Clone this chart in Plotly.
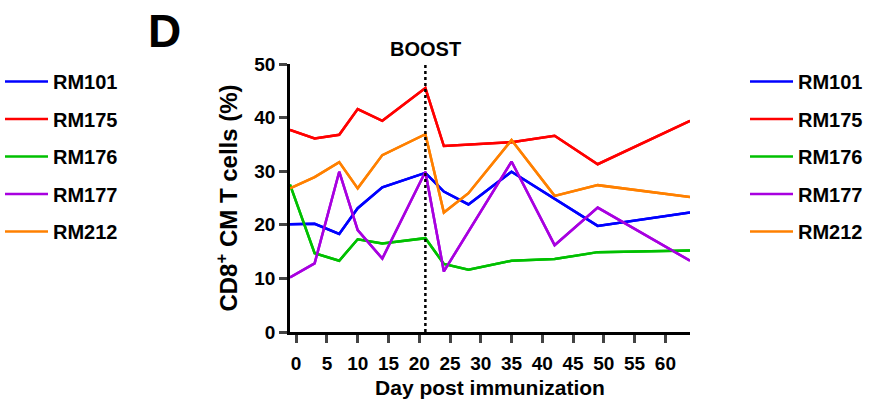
import plotly.graph_objects as go

days = [-1, 3, 7, 10, 14, 21, 24, 28, 35, 42, 49, 64]
series_names = ["RM101", "RM175", "RM176", "RM177", "RM212"]
rm101 = [20.1, 20.2, 18.3, 23.1, 27.0, 29.7, 26.2, 23.8, 29.9, None, 19.8, 22.3]
rm175 = [37.7, 36.1, 36.8, 41.6, 39.4, 45.5, 34.7, None, 35.4, 36.6, 31.3, 39.4]
rm176 = [27.5, 14.7, 13.3, 17.3, 16.5, 17.5, 12.7, 11.6, 13.3, 13.6, 14.9, 15.2]
rm177 = [10.2, 12.8, 29.9, 19.0, 13.7, 29.9, 11.3, None, 31.8, 16.2, 23.2, 13.3]
rm212 = [26.8, 28.9, 31.7, 26.8, 33.0, 36.9, 22.3, 25.9, 35.8, 25.4, 27.4, 25.2]
values = [rm101, rm175, rm176, rm177, rm212]
colors = ["#0000FF", "#FF0000", "#00C000", "#A800E0", "#FF8000"]
boost_day = 21
x_ticks = list(range(0, 61, 5))
y_ticks = [0, 10, 20, 30, 40, 50]

FONT = "Liberation Sans, Arial, sans-serif"
PL, PR, PT, PB = 290, 690, 64, 332
W, H = 886, 402

fig = go.Figure()
for leg in ["legend", "legend2"]:
    for name, vals, col in zip(series_names, values, colors):
        fig.add_trace(go.Scatter(
            x=days, y=vals, mode="lines", name=name,
            line=dict(color=col, width=2.5), connectgaps=True,
            legend=leg, legendgroup=leg + name,
        ))

leg_common = dict(
    font=dict(family=FONT, size=20, color="black", weight="bold"),
    itemwidth=43, tracegroupgap=8.5, traceorder="grouped",
    bgcolor="rgba(0,0,0,0)", xref="paper", yref="paper",
    xanchor="left", yanchor="top",
)
def px_x(p):
    return (p - PL) / (PR - PL)
def px_y(p):
    return (PB - p) / (PB - PT)

fig.update_layout(
    width=W, height=H,
    margin=dict(l=PL, r=W - PR, t=PT, b=H - PB, autoexpand=False),
    plot_bgcolor="white", paper_bgcolor="white",
    font=dict(family=FONT, color="black"),
    showlegend=True,
    legend=dict(x=px_x(0), y=px_y(62), **leg_common),
    legend2=dict(x=px_x(745), y=px_y(62), **leg_common),
    xaxis=dict(
        range=[-1, 64], tickvals=x_ticks, ticks="outside", ticklen=8, tickwidth=2.5,
        showline=True, linecolor="black", linewidth=2.5, showgrid=False, zeroline=False,
        ticklabelstandoff=4,
        tickfont=dict(family=FONT, size=19, color="black", weight="bold"),
        title=dict(text="Day post immunization", standoff=8,
                   font=dict(family=FONT, size=21, color="black", weight="bold")),
    ),
    yaxis=dict(
        range=[0, 50], tickvals=y_ticks, ticks="outside", ticklen=8, tickwidth=2.5,
        showline=True, linecolor="black", linewidth=2.5, showgrid=False, zeroline=False,
        tickfont=dict(family=FONT, size=19, color="black", weight="bold"),
        title=dict(text="CD8<sup>+</sup> CM T cells (%)", standoff=10,
                   font=dict(family=FONT, size=24, color="black", weight="bold")),
    ),
)
fig.add_shape(type="line", xref="x", yref="paper", x0=boost_day, x1=boost_day, y0=0, y1=1,
              line=dict(color="black", width=2.5, dash="dot"))
fig.add_annotation(text="BOOST", xref="x", yref="paper", x=boost_day, y=1, yanchor="bottom",
                   showarrow=False, yshift=2,
                   font=dict(family=FONT, size=20, color="black", weight="bold"))
fig.add_annotation(text="D", xref="paper", yref="paper", x=px_x(146), y=px_y(3), xanchor="left",
                   yanchor="top", showarrow=False,
                   font=dict(family=FONT, size=46, color="black", weight="bold"))
fig.write_html("out.html")
